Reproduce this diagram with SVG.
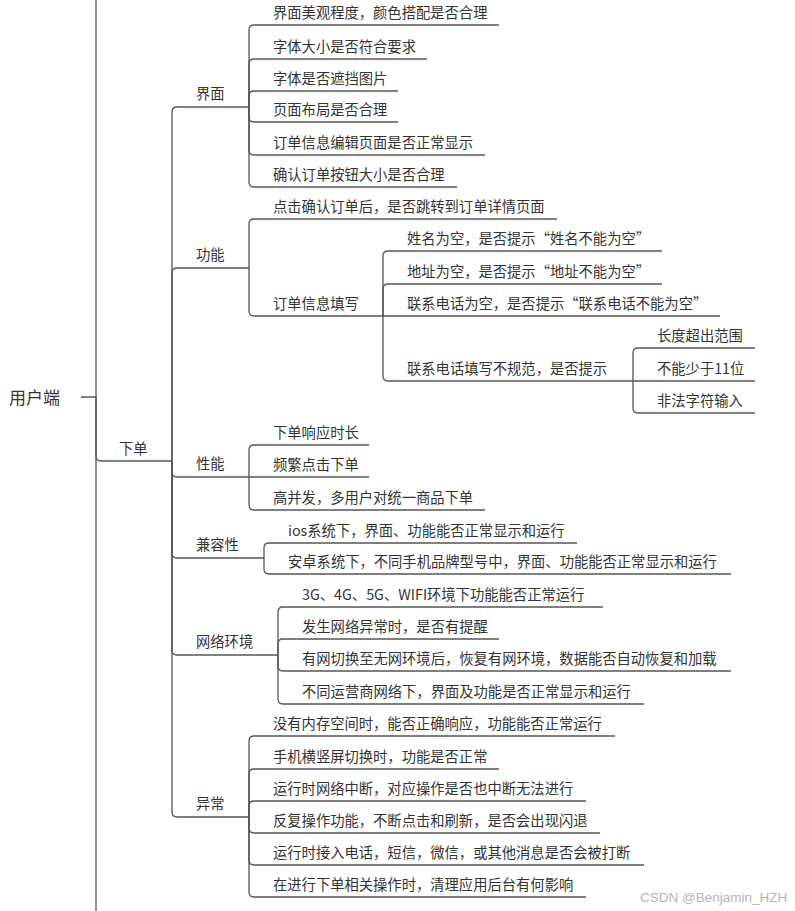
<svg xmlns="http://www.w3.org/2000/svg" width="795" height="911" viewBox="0 0 795 911">
<style>
text{font-family:"Noto Sans CJK SC","Liberation Sans",sans-serif;font-size:14.3px;fill:#333}
.root{font-size:17px}
.wm{font-family:"Liberation Sans",sans-serif;font-size:13.5px;fill:#b4b4b4}
#connectors path{fill:none;stroke:#555;stroke-width:1.3}
</style>
<rect width="795" height="911" fill="#fff"/>
<g id="connectors">
<path d="M96 0 V911"/>
<path d="M81 397 H96 V456 Q96 461 101 461 H172"/>
<path d="M172 461 V112 Q172 107 177 107 H249"/>
<path d="M172 461 V273 Q172 268 177 268 H249"/>
<path d="M172 461 V472 Q172 477 177 477 H249"/>
<path d="M172 461 V553 Q172 558 177 558 H264"/>
<path d="M172 461 V650 Q172 655 177 655 H278"/>
<path d="M172 461 V812 Q172 817 177 817 H249"/>
<path d="M249 107 V30 Q249 25 254 25 H499"/>
<path d="M249 107 V64 Q249 59 254 59 H427"/>
<path d="M249 107 V96 Q249 91 254 91 H398"/>
<path d="M249 107 V117 Q249 122 254 122 H398"/>
<path d="M249 107 V150 Q249 155 254 155 H485"/>
<path d="M249 107 V182 Q249 187 254 187 H457"/>
<path d="M249 268 V224 Q249 219 254 219 H557"/>
<path d="M249 268 V311 Q249 316 254 316 H383"/>
<path d="M383 316 V256 Q383 251 388 251 H662"/>
<path d="M383 316 V289 Q383 284 388 284 H662"/>
<path d="M383 316 H720"/>
<path d="M383 316 V376 Q383 381 388 381 H633"/>
<path d="M633 381 V353 Q633 348 638 348 H755"/>
<path d="M633 381 H755"/>
<path d="M633 381 V408 Q633 413 638 413 H755"/>
<path d="M249 477 V450 Q249 445 254 445 H369"/>
<path d="M249 477 H369"/>
<path d="M249 477 V505 Q249 510 254 510 H485"/>
<path d="M264 558 V548 Q264 543 269 543 H577"/>
<path d="M264 558 V569 Q264 574 269 574 H731"/>
<path d="M278 655 V612 Q278 607 283 607 H603"/>
<path d="M278 655 V644 Q278 639 283 639 H499"/>
<path d="M278 655 V666 Q278 671 283 671 H731"/>
<path d="M278 655 V699 Q278 704 283 704 H644"/>
<path d="M249 817 V741 Q249 736 254 736 H615"/>
<path d="M249 817 V774 Q249 769 254 769 H499"/>
<path d="M249 817 V806 Q249 801 254 801 H586"/>
<path d="M249 817 V828 Q249 833 254 833 H600"/>
<path d="M249 817 V860 Q249 865 254 865 H644"/>
<path d="M249 817 V892 Q249 897 254 897 H586"/>
</g>
<g id="n-root"><text class="root" x="9" y="404">用户端</text></g>
<g id="n-xiadan"><text x="119" y="454">下单</text></g>
<g id="n-jiemian"><text x="196" y="99">界面</text></g>
<g id="n-jm1"><text x="273" y="18">界面美观程度，颜色搭配是否合理</text></g>
<g id="n-jm2"><text x="273" y="52">字体大小是否符合要求</text></g>
<g id="n-jm3"><text x="273" y="84">字体是否遮挡图片</text></g>
<g id="n-jm4"><text x="273" y="115">页面布局是否合理</text></g>
<g id="n-jm5"><text x="273" y="148">订单信息编辑页面是否正常显示</text></g>
<g id="n-jm6"><text x="273" y="180">确认订单按钮大小是否合理</text></g>
<g id="n-gongneng"><text x="196" y="260">功能</text></g>
<g id="n-gn1"><text x="273" y="212">点击确认订单后，是否跳转到订单详情页面</text></g>
<g id="n-gn2"><text x="273" y="309">订单信息填写</text></g>
<g id="n-tx1"><text x="407" y="244">姓名为空，是否提示“姓名不能为空”</text></g>
<g id="n-tx2"><text x="407" y="277">地址为空，是否提示“地址不能为空”</text></g>
<g id="n-tx3"><text x="407" y="309">联系电话为空，是否提示“联系电话不能为空”</text></g>
<g id="n-tx4"><text x="407" y="374">联系电话填写不规范，是否提示</text></g>
<g id="n-gf1"><text x="657" y="341">长度超出范围</text></g>
<g id="n-gf2"><text x="657" y="374">不能少于11位</text></g>
<g id="n-gf3"><text x="657" y="406">非法字符输入</text></g>
<g id="n-xingneng"><text x="196" y="469">性能</text></g>
<g id="n-xn1"><text x="273" y="438">下单响应时长</text></g>
<g id="n-xn2"><text x="273" y="470">频繁点击下单</text></g>
<g id="n-xn3"><text x="273" y="503">高并发，多用户对统一商品下单</text></g>
<g id="n-jianrong"><text x="196" y="550">兼容性</text></g>
<g id="n-jr1"><text x="288" y="536">ios系统下，界面、功能能否正常显示和运行</text></g>
<g id="n-jr2"><text x="288" y="567">安卓系统下，不同手机品牌型号中，界面、功能能否正常显示和运行</text></g>
<g id="n-wangluo"><text x="196" y="647">网络环境</text></g>
<g id="n-wl1"><text x="302" y="600">3G、4G、5G、WIFI环境下功能能否正常运行</text></g>
<g id="n-wl2"><text x="302" y="632">发生网络异常时，是否有提醒</text></g>
<g id="n-wl3"><text x="302" y="664">有网切换至无网环境后，恢复有网环境，数据能否自动恢复和加载</text></g>
<g id="n-wl4"><text x="302" y="697">不同运营商网络下，界面及功能是否正常显示和运行</text></g>
<g id="n-yichang"><text x="196" y="809">异常</text></g>
<g id="n-yc1"><text x="273" y="729">没有内存空间时，能否正确响应，功能能否正常运行</text></g>
<g id="n-yc2"><text x="273" y="762">手机横竖屏切换时，功能是否正常</text></g>
<g id="n-yc3"><text x="273" y="794">运行时网络中断，对应操作是否也中断无法进行</text></g>
<g id="n-yc4"><text x="273" y="826">反复操作功能，不断点击和刷新，是否会出现闪退</text></g>
<g id="n-yc5"><text x="273" y="858">运行时接入电话，短信，微信，或其他消息是否会被打断</text></g>
<g id="n-yc6"><text x="273" y="890">在进行下单相关操作时，清理应用后台有何影响</text></g>
<text class="wm" x="640" y="902">CSDN @Benjamin_HZH</text>
</svg>
